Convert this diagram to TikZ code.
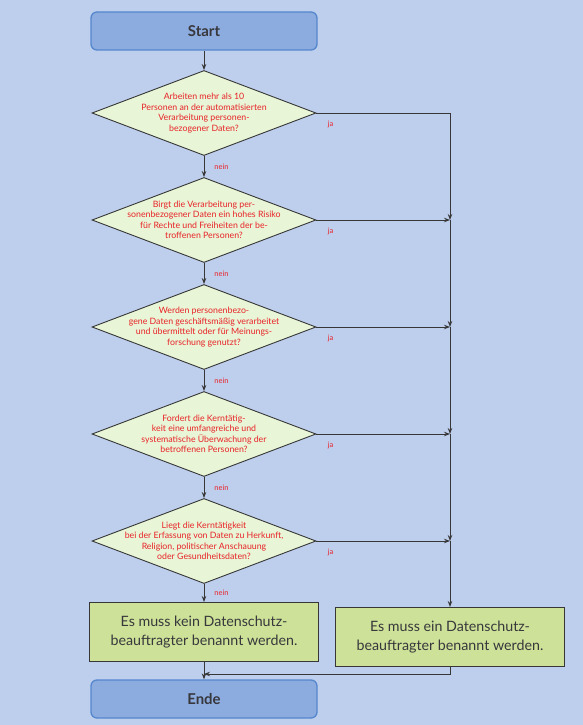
\documentclass[tikz,border=0pt]{standalone}
\usepackage{fontspec}
\setmainfont{Lato}
\usetikzlibrary{shapes.geometric,arrows.meta}
\definecolor{bg}{RGB}{190,207,238}
\definecolor{termfill}{RGB}{140,172,224}
\definecolor{termborder}{RGB}{85,135,205}
\definecolor{decfill}{RGB}{232,245,214}
\definecolor{resfill}{RGB}{205,226,152}
\definecolor{linecol}{RGB}{55,55,55}
\definecolor{redtext}{RGB}{232,35,40}
\definecolor{darktext}{RGB}{55,55,60}
\begin{document}
\begin{tikzpicture}[x=1bp,y=-1bp,
  term/.style={draw=termborder, fill=termfill, rounded corners=6bp, line width=1.3bp,
    minimum width=226bp, minimum height=38bp, text=darktext,
    font=\fontsize{15}{17}\selectfont\bfseries},
  dec/.style={diamond, shape aspect=2.64, draw=linecol, fill=decfill, line width=0.9bp,
    minimum width=224bp, minimum height=85bp, inner sep=-8bp, align=center,
    text=redtext, font=\fontsize{8.8}{10.5}\selectfont},
  res/.style={draw=linecol, fill=resfill, line width=1bp,
    minimum width=229bp, minimum height=59bp, align=center, text=darktext,
    font=\fontsize{14.3}{19}\selectfont},
  conn/.style={draw=linecol, line width=0.9bp, -{Stealth[length=6bp,width=4.5bp]}},
  lab/.style={text=redtext, inner sep=1bp, font=\fontsize{7.5}{8}\selectfont},
  jalab/.style={lab, pos=0, anchor=north west, xshift=10bp, yshift=-7bp},
  neinlab/.style={lab, pos=0.5, anchor=west, xshift=9bp}
]
\fill[bg] (0,0) rectangle (583,725);
\useasboundingbox (0,0) rectangle (583,725);

\node[term] (start) at (204,31) {Start};
\node[dec] (d1) at (204,113) {Arbeiten mehr als 10\\Personen an der automatisierten\\Verarbeitung personen-\\bezogener Daten?};
\node[dec] (d2) at (204,220) {Birgt die Verarbeitung per-\\sonenbezogener Daten ein hohes Risiko\\für Rechte und Freiheiten der be-\\troffenen Personen?};
\node[dec] (d3) at (204,327) {Werden personenbezo-\\gene Daten geschäftsmäßig verarbeitet\\und übermittelt oder für Meinungs-\\forschung genutzt?};
\node[dec] (d4) at (204,434) {Fordert die Kerntätig-\\keit eine umfangreiche und\\systematische Überwachung der\\betroffenen Personen?};
\node[dec] (d5) at (204,541) {Liegt die Kerntätigkeit\\bei der Erfassung von Daten zu Herkunft,\\Religion, politischer Anschauung\\oder Gesundheitsdaten?};
\node[res] (no) at (204,632) {Es muss kein Datenschutz-\\beauftragter benannt werden.};
\node[res] (yes) at (450,637) {Es muss ein Datenschutz-\\beauftragter benannt werden.};
\node[term] (end) at (204,699) {Ende};

\coordinate (j2) at (450,220);
\coordinate (j3) at (450,327);
\coordinate (j4) at (450,434);
\coordinate (j5) at (450,541);
\coordinate (merge) at (204,674);

% nein branches
\draw[conn] (start) -- (d1);
\draw[conn] (d1) -- (d2) node[neinlab] {nein};
\draw[conn] (d2) -- (d3) node[neinlab] {nein};
\draw[conn] (d3) -- (d4) node[neinlab] {nein};
\draw[conn] (d4) -- (d5) node[neinlab] {nein};
\draw[conn] (d5) -- (no) node[neinlab] {nein};
\draw[conn] (no) -- (end);

% ja branches
\draw[conn] (d1.east) -| (j2) node[jalab] {ja};
\draw[conn] (d2.east) -- (j2) node[jalab] {ja};
\draw[conn] (d3.east) -- (j3) node[jalab] {ja};
\draw[conn] (d4.east) -- (j4) node[jalab] {ja};
\draw[conn] (d5.east) -- (j5) node[jalab] {ja};
\draw[conn] (j2) -- (j3);
\draw[conn] (j3) -- (j4);
\draw[conn] (j4) -- (j5);
\draw[conn] (j5) -- (yes.north);
\draw[conn] (yes.south) |- (merge);
\end{tikzpicture}
\end{document}
